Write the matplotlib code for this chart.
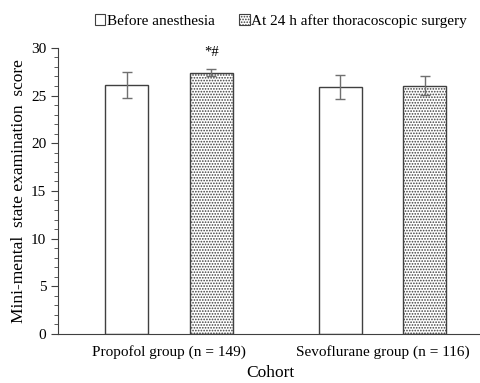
import matplotlib
matplotlib.use("Agg")
import matplotlib.pyplot as plt
import numpy as np
from matplotlib.patches import Patch
from matplotlib.ticker import MultipleLocator

plt.rcParams['hatch.color'] = '#555555'
plt.rcParams['hatch.linewidth'] = 0.8
plt.rcParams['font.family'] = ['Liberation Serif', 'DejaVu Serif']

categories = ["Propofol group (n = 149)", "Sevoflurane group (n = 116)"]
series = ["Before anesthesia", "At 24 h after thoracoscopic surgery"]
before = [26.1, 25.9]
before_err = [1.4, 1.25]
after = [27.4, 26.05]
after_err = [0.4, 1.0]
annotations = ["*#", ""]

fig = plt.figure(figsize=(4.8, 3.83), dpi=100)
ax = fig.add_axes([0.121, 0.128, 0.885, 0.747])

x = np.arange(len(categories))
w = 0.203
off = 0.198
edge = '#404040'
b1 = ax.bar(x - off, before, w, color='white', edgecolor=edge, linewidth=1.0,
            yerr=before_err, error_kw=dict(ecolor='#707070', elinewidth=1.0, capsize=3.5, capthick=1.0), zorder=2)
b2 = ax.bar(x + off, after, w, color='white', edgecolor=edge, linewidth=1.0, hatch='......',
            yerr=after_err, error_kw=dict(ecolor='#707070', elinewidth=1.0, capsize=3.5, capthick=1.0), zorder=2)

for i, t in enumerate(annotations):
    if t:
        ax.text(x[i] + off, after[i] + after_err[i] + 1.0, t, ha='center', va='bottom', fontsize=10.5)

ax.set_xlim(-0.52, 1.47)
ax.set_ylim(0, 30)
ax.yaxis.set_major_locator(MultipleLocator(5))
ax.yaxis.set_minor_locator(MultipleLocator(1))
ax.set_xticks(x)
ax.set_xticklabels(categories, fontsize=11)
ax.tick_params(axis='x', length=0, pad=8)
ax.tick_params(axis='y', which='major', length=5, labelsize=11, color=edge)
ax.tick_params(axis='y', which='minor', length=3, color=edge)
for s in ['top', 'right']:
    ax.spines[s].set_visible(False)
for s in ['left', 'bottom']:
    ax.spines[s].set_color(edge)
ax.set_ylabel("Mini-mental  state examination  score", fontsize=12.5, labelpad=3)
ax.set_xlabel("Cohort", fontsize=12.5, labelpad=4)

handles = [Patch(facecolor='white', edgecolor=edge, linewidth=0.8),
           Patch(facecolor='white', edgecolor=edge, linewidth=0.8, hatch='......')]
fig.legend(handles, series, loc='upper center', bbox_to_anchor=(0.585, 1.0), ncol=2, frameon=False,
           fontsize=11, handlelength=0.7, handleheight=0.7, handletextpad=0.1, columnspacing=1.6)

fig.savefig("out.png", dpi=100)
